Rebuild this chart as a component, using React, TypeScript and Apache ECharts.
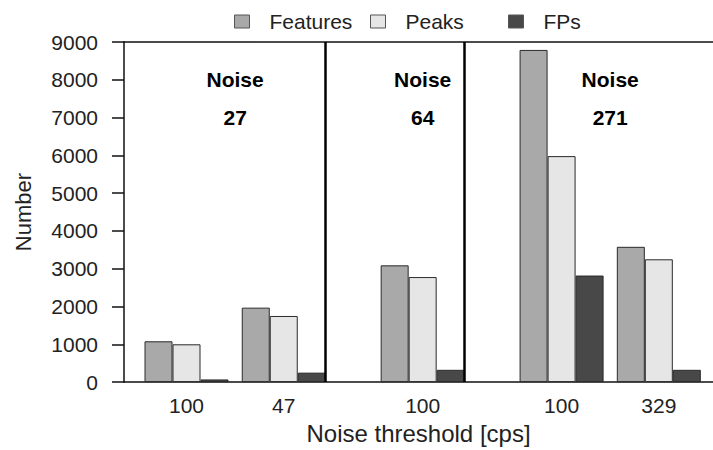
import React, { useEffect, useRef } from "react";
import * as echarts from "echarts";

// Noise threshold (cps) for each group of bars, left to right
const categories = ["100", "47", "100", "100", "329"];
// Measured noise level of the run each group belongs to
const groupNoise = [27, 27, 64, 271, 271];
const noisePanels = [27, 64, 271];

const features = [1080, 1970, 3090, 8790, 3580];
const peaks = [1000, 1750, 2780, 5980, 3250];
const fps = [70, 250, 325, 2820, 325];

const seriesNames = ["Features", "Peaks", "FPs"];
const seriesColors = ["#a9a9a9", "#e6e6e6", "#484848"];

const yTicks = { min: 0, max: 9000, interval: 1000 };

const FONT = "Liberation Sans, Arial, Helvetica, sans-serif";

// x layout in bar-width units: groups 3.5 units apart, with 1.5 extra units between noise panels
const panelIndex = groupNoise.map((n) => noisePanels.indexOf(n));
const positions = categories.map((_, i) => 2.25 + 3.5 * i + 1.5 * panelIndex[i]);
const X_MAX = 21.2;

const dividers: number[] = [];
for (let i = 1; i < positions.length; i++) {
  if (panelIndex[i] !== panelIndex[i - 1]) dividers.push((positions[i] + positions[i - 1]) / 2);
}

const panelCentres = noisePanels.map((_, p) => {
  const xs = positions.filter((_, i) => panelIndex[i] === p);
  return xs.reduce((a, b) => a + b, 0) / xs.length;
});

export default function App() {
  const ref = useRef<HTMLDivElement>(null);

  useEffect(() => {
    document.body.style.margin = "0";
    const chart = echarts.init(ref.current!, null, { renderer: "svg" });

    const barStyle = (color: string) => ({
      color,
      borderColor: "#2a2a2a",
      borderWidth: 1,
    });

    const labelFor = (v: number) => {
      const i = positions.findIndex((p) => Math.abs(p - v) < 1e-6);
      return i >= 0 ? categories[i] : "";
    };

    const noiseLabels: any[] = [];
    noisePanels.forEach((n, p) => {
      noiseLabels.push({ value: [panelCentres[p], 8000], name: "Noise" });
      noiseLabels.push({ value: [panelCentres[p], 7000], name: String(n) });
    });

    // one legend block per series, laid out in equal-width columns
    const legendLefts = [234, 370, 508];
    const legends = seriesNames.map((name, i) => ({
      data: [name],
      left: legendLefts[i],
      top: 11,
      padding: 0,
      icon: "rect",
      itemWidth: 15,
      itemHeight: 13,
      itemStyle: { borderColor: "#555", borderWidth: 1 },
      textStyle: {
        fontFamily: FONT,
        fontSize: 21,
        color: "#222",
        padding: [0, 0, 0, 15],
      },
    }));

    const bars = seriesNames.map((name, s) => {
      const values = [features, peaks, fps][s];
      const series: any = {
        name,
        type: "bar",
        barWidth: 28,
        barGap: "0%",
        itemStyle: barStyle(seriesColors[s]),
        data: positions.map((p, i) => [p, values[i]]),
      };
      if (s === 0) {
        series.markLine = {
          silent: true,
          symbol: "none",
          label: { show: false },
          lineStyle: { color: "#000", width: 2.5, type: "solid" },
          data: dividers.map((x) => ({ xAxis: x })),
        };
      }
      return series;
    });

    chart.setOption({
      animation: false,
      backgroundColor: "#ffffff",
      textStyle: { fontFamily: FONT },
      grid: { left: 124, right: 0, top: 42, bottom: 67 },
      legend: legends,
      xAxis: [
        {
          type: "value",
          min: 0,
          max: X_MAX,
          axisLine: { show: true, onZero: false, lineStyle: { color: "#111", width: 1.5 } },
          axisTick: { show: false },
          splitLine: { show: false },
          axisLabel: {
            customValues: positions,
            formatter: (v: number) => labelFor(v),
            fontFamily: FONT,
            fontSize: 21,
            color: "#222",
            margin: 13,
          },
          name: "Noise threshold [cps]",
          nameLocation: "middle",
          nameGap: 38,
          nameTextStyle: { fontFamily: FONT, fontSize: 24, color: "#222" },
        },
        {
          type: "value",
          position: "top",
          min: 0,
          max: X_MAX,
          axisLine: { show: true, onZero: false, lineStyle: { color: "#111", width: 1.5 } },
          axisTick: { show: false },
          axisLabel: { show: false },
          splitLine: { show: false },
        },
      ],
      yAxis: {
        type: "value",
        min: yTicks.min,
        max: yTicks.max,
        interval: yTicks.interval,
        axisLine: { show: true, onZero: false, lineStyle: { color: "#111", width: 1.5 } },
        axisTick: { show: true, inside: false, length: 12, lineStyle: { color: "#111", width: 1.5 } },
        splitLine: { show: false },
        axisLabel: {
          fontFamily: FONT,
          fontSize: 21,
          color: "#222",
          margin: 26,
          formatter: (v: number) => String(v),
        },
        name: "Number",
        nameLocation: "middle",
        nameGap: 90,
        nameTextStyle: { fontFamily: FONT, fontSize: 22, color: "#222" },
      },
      series: [
        ...bars,
        {
          name: "noise",
          type: "scatter",
          symbolSize: 0,
          silent: true,
          itemStyle: { opacity: 1 },
          data: noiseLabels,
          label: {
            show: true,
            position: "inside",
            formatter: "{b}",
            fontFamily: FONT,
            fontSize: 21,
            fontWeight: "bold",
            color: "#000",
            textBorderWidth: 0,
          },
        },
      ],
    });

    return () => chart.dispose();
  }, []);

  return <div ref={ref} style={{ width: 713, height: 450 }} />;
}
